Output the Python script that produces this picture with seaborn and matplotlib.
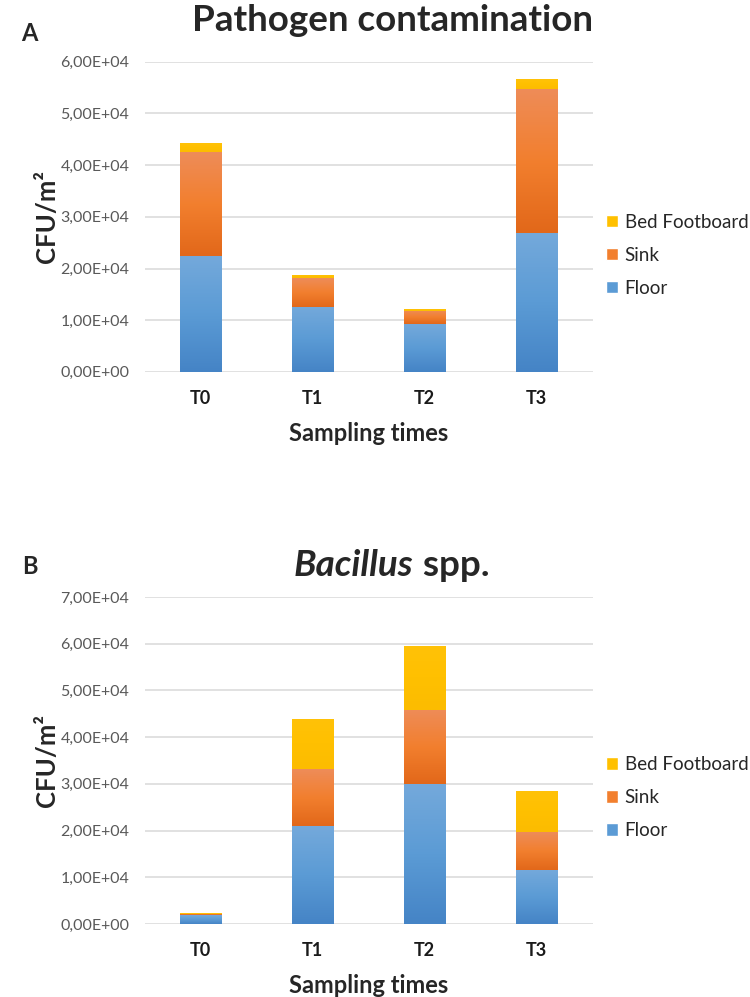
import numpy as np
import pandas as pd
import matplotlib
matplotlib.use("Agg")
import matplotlib.pyplot as plt
import seaborn as sns
from matplotlib.colors import LinearSegmentedColormap
from matplotlib.patches import Patch
from matplotlib.ticker import FuncFormatter

times = ["T0", "T1", "T2", "T3"]
series = ["Floor", "Sink", "Bed Footboard"]

# A - pathogen contamination, CFU/m2
path_floor = [22500, 12600, 9200, 26900]
path_sink = [20100, 5500, 2600, 27900]
path_bed = [1700, 600, 300, 1900]

# B - Bacillus spp., CFU/m2
bac_floor = [1900, 20900, 29900, 11600]
bac_sink = [300, 12200, 16000, 8100]
bac_bed = [100, 10800, 13700, 8800]

# bottom -> middle -> top colour of each segment (excel style gradient)
shades = {
    "Floor": ("#4584C6", "#5B9BD5", "#74A9DB"),
    "Sink": ("#E2681A", "#F27F2E", "#EE8C58"),
    "Bed Footboard": ("#FCBC00", "#FFC000", "#FFC208"),
}

sns.set_theme(style="whitegrid")
plt.rcParams["font.family"] = ["Lato", "DejaVu Sans"]


def sci_comma(v, pos):
    return "{:.2E}".format(v).replace(".", ",")


def draw_panel(ax, layers, ymax):
    df = pd.DataFrame(layers, index=times)
    cum = df.cumsum(axis=1)
    grad = np.linspace(0, 1, 64).reshape(-1, 1)
    # tallest stack first, lower stacks drawn over it
    for i, name in enumerate(reversed(series)):
        z = 2 + i * 2
        n0 = len(ax.patches)
        sns.barplot(x=times, y=cum[name].values, color=shades[name][1],
                    width=0.375, saturation=1, linewidth=0, ax=ax)
        idx = series.index(name)
        lower = cum[series[idx - 1]].values if idx > 0 else np.zeros(len(times))
        cmap = LinearSegmentedColormap.from_list(name, shades[name])
        for p, lo in zip(ax.patches[n0:], lower):
            p.set_zorder(z)
            x0 = p.get_x()
            im = ax.imshow(grad, cmap=cmap, origin="lower", aspect="auto",
                           extent=(x0, x0 + p.get_width(), lo, p.get_height()),
                           zorder=z + 0.5)
            im.set_clip_path(p)

    ax.set_xlim(-0.5, 3.5)
    ax.set_ylim(0, ymax)
    ax.set_yticks(np.arange(0, ymax + 1, 10000))
    ax.yaxis.set_major_formatter(FuncFormatter(sci_comma))
    ax.grid(axis="y", color="#D9D9D9", linewidth=1.1)
    ax.grid(axis="x", visible=False)
    ax.set_axisbelow(True)
    for s in ax.spines.values():
        s.set_visible(False)
    ax.tick_params(axis="y", labelsize=11.5, labelcolor="#595959", pad=5)
    ax.tick_params(axis="x", labelsize=13, labelcolor="#1a1a1a", pad=7)
    for t in ax.get_xticklabels():
        t.set_fontweight("bold")
    ax.set_xlabel("Sampling times", fontsize=17, fontweight="bold", labelpad=11)
    ax.set_ylabel("CFU/m²", fontsize=18.5, fontweight="bold", labelpad=1)


fig = plt.figure(figsize=(7.5, 9.97), dpi=100)
ax_a = fig.add_axes([0.193, 0.627, 0.597, 0.311])
ax_b = fig.add_axes([0.193, 0.0732, 0.597, 0.328])

draw_panel(ax_a, {"Floor": path_floor, "Sink": path_sink, "Bed Footboard": path_bed}, 60000)
draw_panel(ax_b, {"Floor": bac_floor, "Sink": bac_sink, "Bed Footboard": bac_bed}, 70000)

handles = [Patch(facecolor=shades[s][1]) for s in reversed(series)]
for ax, ly in [(ax_a, 0.744), (ax_b, 0.20)]:
    ax.legend(handles, list(reversed(series)), loc="center left",
              bbox_to_anchor=(0.808, ly), bbox_transform=fig.transFigure,
              frameon=False, fontsize=13.5, handlelength=0.65, handleheight=0.65,
              labelspacing=0.85, handletextpad=0.35, borderpad=0, borderaxespad=0)

fig.text(0.523, 0.979, "Pathogen contamination", ha="center", va="center",
         fontsize=26.5, fontweight="bold")
fig.text(0.028, 0.966, "A", ha="left", va="center", fontsize=17, fontweight="bold")
fig.text(0.030, 0.432, "B", ha="left", va="center", fontsize=17, fontweight="bold")

# "Bacillus" italic + " spp." upright, centred together
r = fig.canvas.get_renderer()
t1 = fig.text(0, 0.433, "Bacillus", va="center", fontsize=26.5, fontweight="bold", style="italic")
t2 = fig.text(0, 0.433, " spp.", va="center", fontsize=26.5, fontweight="bold")
w1 = t1.get_window_extent(r).width / fig.bbox.width
w2 = t2.get_window_extent(r).width / fig.bbox.width
x0 = 0.522 - (w1 + w2) / 2
t1.set_x(x0)
t2.set_x(x0 + w1)

fig.savefig("out.png", dpi=100)
